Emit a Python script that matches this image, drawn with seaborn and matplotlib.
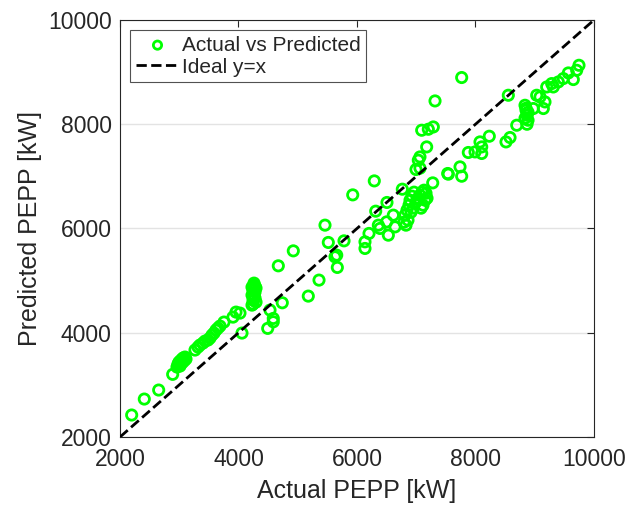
import matplotlib
matplotlib.use('Agg')
import matplotlib.pyplot as plt
import numpy as np
import pandas as pd
import seaborn as sns

# Values (kW)
actual = [2197, 2410, 2653, 2889,
          2962, 2996, 3030, 3063, 3097, 2979, 3013, 3046, 3080, 3114,
          3266, 3317, 3350, 3401, 3435, 3485, 3519, 3553, 3587, 3620, 3654, 3688,
          3755, 3907, 3958, 4059, 4025,
          4228, 4245, 4262, 4279, 4296, 4262, 4245, 4228, 4279, 4296, 4245, 4262, 4228, 4279,
          4493, 4532, 4587, 4587, 4739, 4672, 4925, 5178, 5359, 5460, 5516,
          5629, 5658, 5668, 5781, 5928, 6135, 6135, 6203, 6292, 6316, 6360, 6388,
          6506, 6501, 6529, 6613, 6642, 6765,
          6810, 6844, 6878, 6895, 6929, 6963, 6861, 6912, 6946, 6996, 7030, 7064,
          7098, 7131, 7165, 7148, 7114, 7081, 7182, 6827, 6793,
          6996, 7035, 7278, 7531, 7739, 7767, 7767, 7317, 7288, 7204, 7092, 7176,
          7063, 7063, 7541, 7879, 7992, 8105, 8105, 8076, 8233, 8515, 8583, 8696, 8554,
          8836, 8853, 8870, 8887, 8836, 8870, 8853, 8887,
          8976, 9033, 9089, 9145, 9173, 9202, 9286, 9313, 9398, 9482, 9567, 9651,
          9708, 9747]
predicted = [2422, 2728, 2901, 3202,
             3342, 3438, 3476, 3514, 3534, 3399, 3361, 3419, 3457, 3495,
             3668, 3725, 3764, 3802, 3840, 3860, 3898, 3955, 3994, 4051, 4090, 4128,
             4205, 4300, 4396, 3994, 4377,
             4530, 4626, 4703, 4780, 4856, 4914, 4818, 4722, 4665, 4588, 4550, 4952, 4875, 4895,
             4084, 4435, 4275, 4210, 4575, 5284, 5571, 4703, 5010, 6064, 5732,
             5456, 5489, 5253, 5763, 6645, 5744, 5617, 5905, 6913, 6332, 6064, 6001,
             6499, 6127, 5872, 6256, 6031, 6754,
             6256, 6352, 6448, 6543, 6620, 6697, 6160, 6313, 6390, 6505, 6582, 6639,
             6697, 6735, 6677, 6543, 6448, 6390, 6582, 6064, 6122,
             7132, 7310, 6875, 7055, 7182, 7003, 8896, 8447, 7948, 7904, 7885, 7565,
             7373, 7157, 7042, 7458, 7469, 7565, 7439, 7661, 7770, 7661, 7745, 7981, 8556,
             8364, 8269, 8173, 8077, 8115, 8000, 8307, 8230,
             8301, 8556, 8524, 8301, 8428, 8715, 8780, 8715, 8811, 8876, 8984, 8857,
             9035, 9131]
ideal = [2000, 10000]
ticks = [2000, 4000, 6000, 8000, 10000]

df = pd.DataFrame({'Actual': actual, 'Predicted': predicted})
ideal_df = pd.DataFrame({'x': ideal, 'y': ideal})

sns.set_style('white')
plt.rcParams['font.family'] = ['Liberation Sans', 'DejaVu Sans']

fig = plt.figure(figsize=(6.4, 5.11), dpi=100)
ax = fig.add_axes([0.1875, 0.1448, 0.7406, 0.8161])

sns.scatterplot(data=df, x='Actual', y='Predicted', ax=ax, marker='o',
                facecolor='none', edgecolor=(0, 1, 0), linewidth=2, s=55,
                label='Actual vs Predicted', zorder=3)
sns.lineplot(data=ideal_df, x='x', y='y', ax=ax, color='black',
             linestyle='--', linewidth=2, label='Ideal y=x', zorder=4)

ax.set_xlim(2000, 10000)
ax.set_ylim(2000, 10000)
ax.set_xticks(ticks)
ax.set_yticks(ticks)
ax.yaxis.grid(True, color='#e3e3e3', linewidth=1)
ax.xaxis.grid(False)
ax.tick_params(direction='in', length=5, width=0.8, top=True, right=True,
               labelsize=16.5, colors='#262626')
ax.tick_params(axis='x', pad=8)
ax.tick_params(axis='y', pad=6)
for sp in ax.spines.values():
    sp.set_color('#262626')
    sp.set_linewidth(0.8)
ax.set_xlabel('Actual PEPP [kW]', fontsize=18, color='#262626', labelpad=6)
ax.set_ylabel('Predicted PEPP [kW]', fontsize=18, color='#262626', labelpad=4)

leg = ax.legend(loc='upper left', fontsize=15, frameon=True, fancybox=False,
                edgecolor='#262626', borderpad=0.25, labelspacing=0.15,
                handlelength=2.1, handletextpad=0.15, borderaxespad=0.5,
                markerscale=0.8)
leg.get_frame().set_linewidth(0.8)

fig.savefig('out.png', dpi=100)
